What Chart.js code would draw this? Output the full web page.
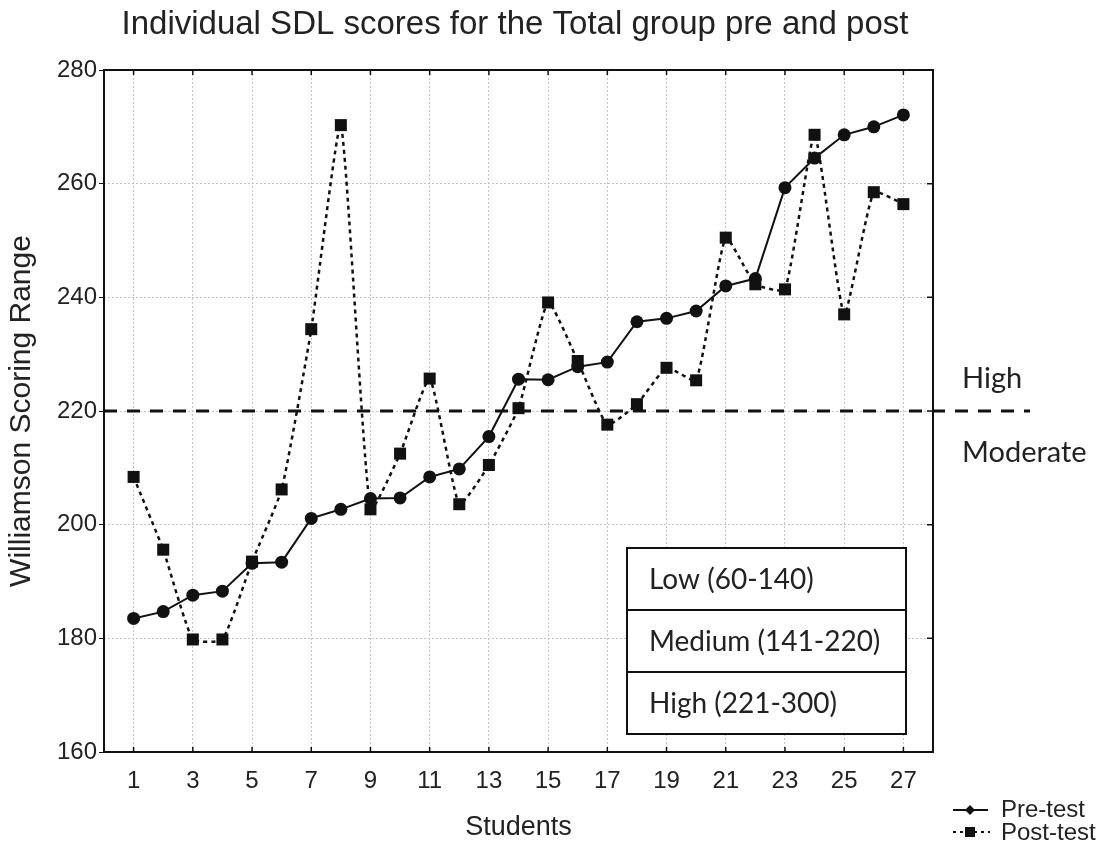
<!DOCTYPE html>
<html>
<head>
<meta charset="utf-8">
<title>Individual SDL scores</title>
<script src="https://cdn.jsdelivr.net/npm/chart.js@4.4.1/dist/chart.umd.min.js"></script>
<style>
  html, body { margin: 0; padding: 0; background: #fff; }
  #wrap { width: 1108px; height: 852px; position: relative; }
</style>
</head>
<body>
<div id="wrap"><canvas id="sdlChart"></canvas></div>
<script>
// Chart data
var students = [1, 2, 3, 4, 5, 6, 7, 8, 9, 10, 11, 12, 13, 14, 15, 16, 17, 18, 19, 20, 21, 22, 23, 24, 25, 26, 27];
var preTest = [183.5, 184.7, 187.6, 188.3, 193.2, 193.4, 201.1, 202.7, 204.6, 204.7, 208.4, 209.8, 215.5, 225.6,
               225.5, 227.8, 228.6, 235.7, 236.3, 237.6, 242.0, 243.3, 259.3, 264.5, 268.6, 270.0, 272.1];
var postTest = [208.4, 195.6, 179.8, 179.8, 193.5, 206.2, 234.4, 270.3, 202.7, 212.5, 225.7, 203.6, 210.5, 220.5,
                239.1, 228.8, 217.6, 221.2, 227.6, 225.4, 250.5, 242.3, 241.4, 268.6, 237.0, 258.5, 256.4];
var seriesNames = ['Pre-test', 'Post-test'];
var xTicks = [1, 3, 5, 7, 9, 11, 13, 15, 17, 19, 21, 23, 25, 27];
var yTicks = [160, 180, 200, 220, 240, 260, 280];
var threshold = 220;
var zoneLabels = ['High', 'Moderate'];
var bandLabels = ['Low (60-140)', 'Medium (141-220)', 'High (221-300)'];

var titleText = 'Individual SDL scores for the Total group pre and post';
var sansFont = '"Liberation Sans", Arial, sans-serif';
var boxFont = 'Lato, "Open Sans", sans-serif';

function toPoints(values) {
    return students.map(function (s, i) { return { x: s, y: values[i] }; });
}

// Draws title, frame, threshold line, range box and legend
var extras = {
    id: 'extras',
    afterDatasetsDraw: function (chart) {
        var ctx = chart.ctx;
        var a = chart.chartArea;
        var xs = chart.scales.x;
        var ys = chart.scales.y;
        ctx.save();

        // threshold line at 220, runs past the right edge
        var ty = ys.getPixelForValue(threshold);
        ctx.strokeStyle = '#111';
        ctx.lineWidth = 3;
        ctx.setLineDash([13, 10]);
        ctx.beginPath();
        ctx.moveTo(a.left, ty);
        ctx.lineTo(1030, ty);
        ctx.stroke();
        ctx.setLineDash([]);

        // frame
        ctx.lineWidth = 2;
        ctx.strokeStyle = '#111';
        ctx.strokeRect(a.left, a.top, a.right - a.left, a.bottom - a.top);

        // inward tick marks on bottom and right
        ctx.lineWidth = 1.5;
        ctx.beginPath();
        xTicks.forEach(function (v) {
            var px = xs.getPixelForValue(v);
            ctx.moveTo(px, a.bottom);
            ctx.lineTo(px, a.bottom - 5);
            ctx.moveTo(px, a.top);
            ctx.lineTo(px, a.top + 5);
        });
        yTicks.forEach(function (v) {
            var py = ys.getPixelForValue(v);
            ctx.moveTo(a.right, py);
            ctx.lineTo(a.right - 6, py);
        });
        ctx.stroke();

        // zone labels to the right of the plot
        ctx.fillStyle = '#222';
        ctx.font = '29px ' + boxFont;
        ctx.textAlign = 'left';
        ctx.textBaseline = 'alphabetic';
        ctx.fillText(zoneLabels[0], 962, ty - 23);
        ctx.fillText(zoneLabels[1], 962, ty + 51);

        // range box
        var bx = 627, by = 548, bw = 279, rowH = 62;
        ctx.fillStyle = '#fff';
        ctx.fillRect(bx, by, bw, rowH * 3);
        ctx.strokeStyle = '#111';
        ctx.lineWidth = 2;
        ctx.strokeRect(bx, by, bw, rowH * 3);
        ctx.beginPath();
        ctx.moveTo(bx, by + rowH);
        ctx.lineTo(bx + bw, by + rowH);
        ctx.moveTo(bx, by + rowH * 2);
        ctx.lineTo(bx + bw, by + rowH * 2);
        ctx.stroke();
        ctx.fillStyle = '#222';
        ctx.font = '28px ' + boxFont;
        ctx.textBaseline = 'middle';
        bandLabels.forEach(function (t, i) {
            ctx.fillText(t, bx + 22, by + rowH * i + rowH / 2 + 1);
        });

        ctx.restore();
    },
    afterDraw: function (chart) {
        var ctx = chart.ctx;
        ctx.save();

        // title
        ctx.fillStyle = '#222';
        ctx.font = '33px ' + sansFont;
        ctx.textAlign = 'center';
        ctx.textBaseline = 'middle';
        ctx.fillText(titleText, 515, 25);

        // legend, bottom right
        ctx.strokeStyle = '#111';
        ctx.fillStyle = '#111';
        ctx.lineWidth = 2;
        ctx.beginPath();
        ctx.moveTo(953, 810);
        ctx.lineTo(988, 810);
        ctx.stroke();
        ctx.beginPath();
        ctx.moveTo(970, 805);
        ctx.lineTo(975, 810);
        ctx.lineTo(970, 815);
        ctx.lineTo(965, 810);
        ctx.closePath();
        ctx.fill();

        ctx.setLineDash([3, 4]);
        ctx.beginPath();
        ctx.moveTo(953, 832);
        ctx.lineTo(990, 832);
        ctx.stroke();
        ctx.setLineDash([]);
        ctx.fillRect(965, 827, 10, 10);

        ctx.fillStyle = '#222';
        ctx.font = '24px ' + sansFont;
        ctx.textAlign = 'left';
        ctx.fillText(seriesNames[0], 1001, 810);
        ctx.fillText(seriesNames[1], 1001, 833);

        ctx.restore();
    }
};

var ctx = document.getElementById('sdlChart').getContext('2d');

var sdlChart = new Chart(ctx, {
    type: 'line',
    data: {
        datasets: [
            {
                label: seriesNames[1],
                data: toPoints(postTest),
                borderColor: '#111',
                backgroundColor: '#111',
                borderWidth: 2.5,
                borderDash: [4, 4],
                tension: 0.15,
                pointStyle: 'rect',
                pointRadius: 8.5,
                pointBackgroundColor: '#111',
                pointBorderWidth: 0
            },
            {
                label: seriesNames[0],
                data: toPoints(preTest),
                borderColor: '#111',
                backgroundColor: '#111',
                borderWidth: 2,
                tension: 0,
                pointStyle: 'circle',
                pointRadius: 6.5,
                pointBackgroundColor: '#111',
                pointBorderWidth: 0
            }
        ]
    },
    options: {
        responsive: true,
        maintainAspectRatio: false,
        animation: false,
        layout: {
            padding: { top: 70, right: 175, left: 0, bottom: 0 }
        },
        scales: {
            x: {
                type: 'linear',
                min: 0,
                max: 28,
                afterBuildTicks: function (scale) {
                    scale.ticks = xTicks.map(function (v) { return { value: v }; });
                },
                afterFit: function (scale) {
                    scale.height = 100; // tick labels + axis title
                },
                grid: {
                    color: '#c4c4c4',
                    lineWidth: 1,
                    drawTicks: false
                },
                border: { display: false, dash: [2, 2] },
                ticks: {
                    color: '#222',
                    padding: 15,
                    maxRotation: 0,
                    autoSkip: false,
                    font: { family: sansFont, size: 24 }
                },
                title: {
                    display: true,
                    text: 'Students',
                    color: '#222',
                    padding: 8,
                    font: { family: sansFont, size: 27 }
                }
            },
            y: {
                min: 160,
                max: 280,
                afterBuildTicks: function (scale) {
                    scale.ticks = yTicks.map(function (v) { return { value: v }; });
                },
                afterFit: function (scale) {
                    scale.width = 104;
                },
                grid: {
                    color: '#c4c4c4',
                    lineWidth: 1,
                    drawTicks: true,
                    tickLength: 5,
                    tickColor: '#111'
                },
                border: { display: false, dash: [2, 2] },
                ticks: {
                    color: '#222',
                    padding: 2,
                    font: { family: sansFont, size: 24 }
                },
                title: {
                    display: true,
                    text: 'Williamson Scoring Range',
                    color: '#222',
                    padding: 4,
                    font: { family: sansFont, size: 30 }
                }
            }
        },
        plugins: {
            legend: { display: false },
            title: { display: false },
            tooltip: { enabled: false }
        }
    },
    plugins: [extras]
});
</script>
</body>
</html>
